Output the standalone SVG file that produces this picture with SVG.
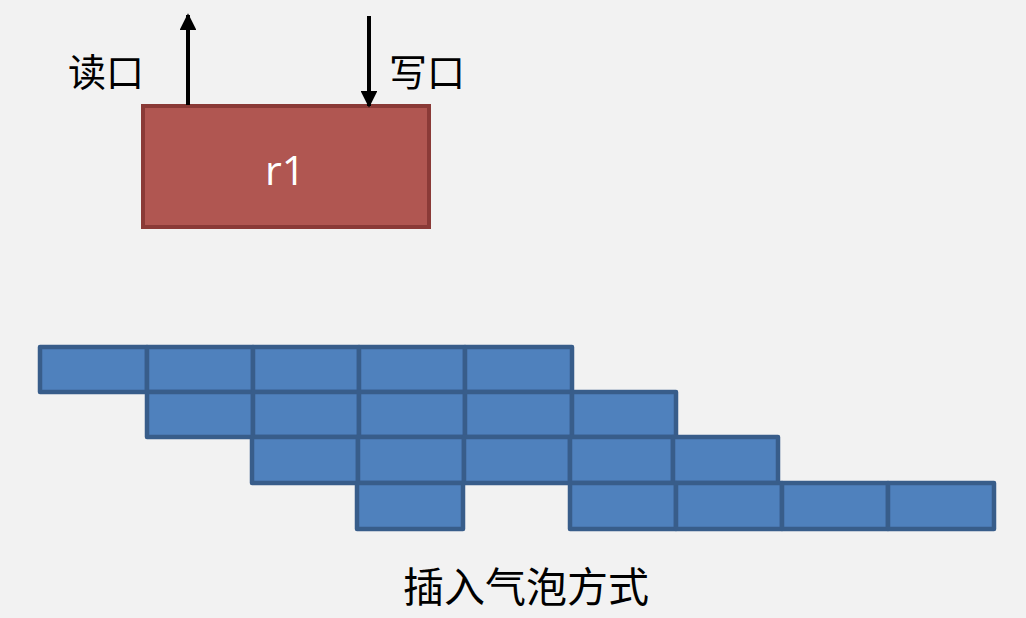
<svg xmlns="http://www.w3.org/2000/svg" width="1026" height="618" viewBox="0 0 1026 618">
<style>
.cell{fill:#4f81bd;stroke:#385d8a;stroke-width:4.5;stroke-linejoin:round}
.cjk{font-family:"Noto Sans CJK SC",sans-serif;fill:#000}
.arrow{stroke:#000;stroke-width:4;fill:none}
</style>
<defs>
<marker id="ah" viewBox="0 0 10 10" refX="9" refY="5" markerWidth="4.5" markerHeight="4.2" orient="auto" markerUnits="strokeWidth">
<path d="M0,0 L10,5 L0,10 z" fill="#000"/>
</marker>
</defs>
<rect width="1026" height="618" fill="#f2f2f2"/>
<g id="r1">
<rect x="143" y="106" width="286" height="121" fill="#b05651" stroke="#8a3a37" stroke-width="4"/>
<text x="285" y="185" text-anchor="middle" font-family="Open Sans, sans-serif" font-size="41" fill="#fff">r1</text>
</g>
<g id="labels">
<text class="cjk" x="68" y="86" font-size="38">读口</text>
<text class="cjk" x="389" y="86" font-size="38">写口</text>
<text class="cjk" x="526" y="602" font-size="41" text-anchor="middle">插入气泡方式</text>
</g>
<g id="connectors">
<line class="arrow" x1="188" y1="105" x2="188" y2="15" marker-end="url(#ah)"/>
<line class="arrow" x1="369" y1="16" x2="369" y2="106" marker-end="url(#ah)"/>
</g>
<g id="grid">
<g id="row1">
<rect class="cell" x="40" y="347" width="107" height="45"/>
<rect class="cell" x="147" y="347" width="106" height="45"/>
<rect class="cell" x="253" y="347" width="106" height="45"/>
<rect class="cell" x="359" y="347" width="106" height="45"/>
<rect class="cell" x="465" y="347" width="107" height="45"/>
</g>
<g id="row2">
<rect class="cell" x="147" y="392" width="106" height="45"/>
<rect class="cell" x="253" y="392" width="106" height="45"/>
<rect class="cell" x="359" y="392" width="106" height="45"/>
<rect class="cell" x="465" y="392" width="107" height="45"/>
<rect class="cell" x="572" y="392" width="104" height="45"/>
</g>
<g id="row3">
<rect class="cell" x="252" y="437" width="106" height="46"/>
<rect class="cell" x="358" y="437" width="106" height="46"/>
<rect class="cell" x="464" y="437" width="106" height="46"/>
<rect class="cell" x="570" y="437" width="103" height="46"/>
<rect class="cell" x="673" y="437" width="105" height="46"/>
</g>
<g id="row4">
<rect class="cell" x="357" y="483" width="106" height="46"/>
<rect class="cell" x="570" y="483" width="106" height="46"/>
<rect class="cell" x="676" y="483" width="106" height="46"/>
<rect class="cell" x="782" y="483" width="106" height="46"/>
<rect class="cell" x="888" y="483" width="106" height="46"/>
</g>
</g>
</svg>
